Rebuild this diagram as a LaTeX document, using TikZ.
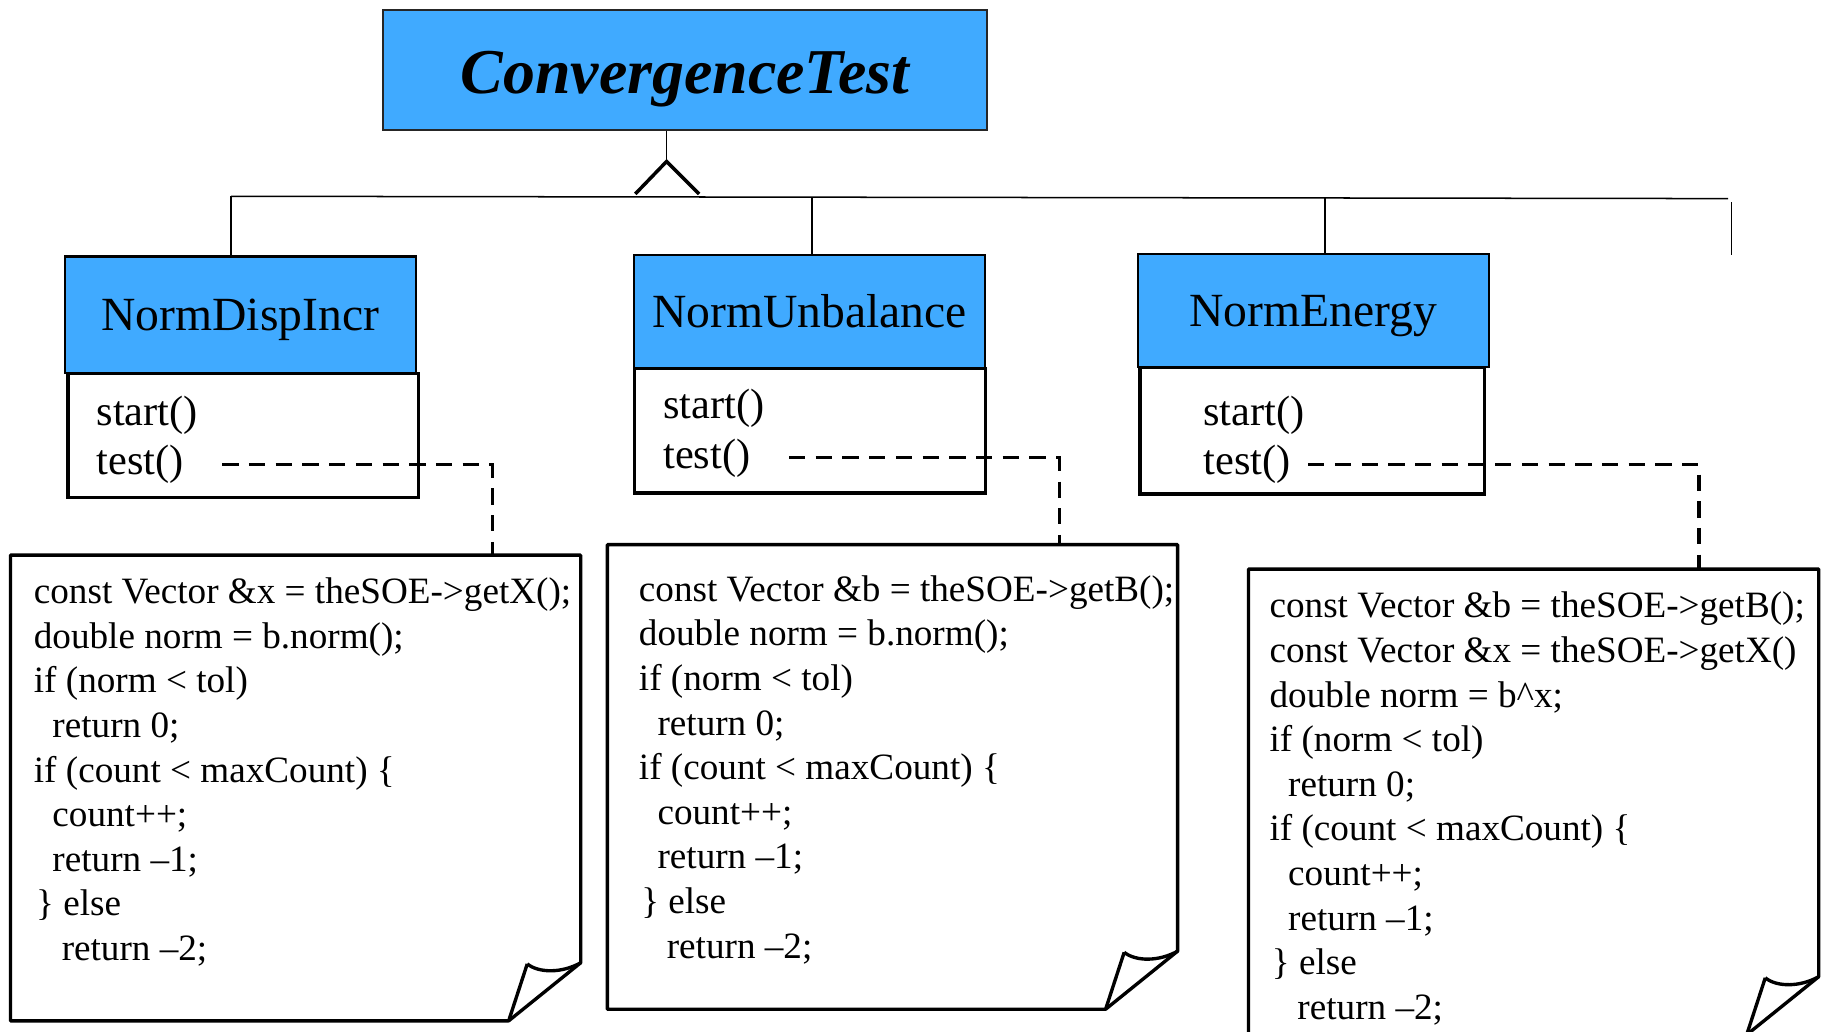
\documentclass[tikz,border=0pt]{standalone}
\usepackage{fontspec}
\setmainfont{Liberation Serif}
\definecolor{classblue}{RGB}{64,170,255}
\begin{document}
\begin{tikzpicture}[x=1pt,y=-1pt,
  titlebox/.style={draw=black!85, line width=1.5pt, fill=classblue, anchor=north west, inner sep=0pt,
    minimum width=520pt, minimum height=103pt, text height=41pt, text depth=0pt,
    font=\fontsize{55}{60}\selectfont\bfseries\itshape},
  headbox/.style={draw=black, line width=1.8pt, fill=classblue, anchor=north west, inner sep=0pt,
    text height=27pt, text depth=0pt, font=\fontsize{41}{46}\selectfont},
  bodybox/.style={draw=black, line width=2.9pt, anchor=north west, inner sep=0pt},
  meth/.style={anchor=base west, inner sep=0pt, font=\fontsize{36.5}{40}\selectfont},
  code/.style={anchor=base west, inner sep=0pt, align=left, font=\fontsize{32}{38.4}\selectfont},
  notebox/.style={line width=2.9pt, line join=round},
  thinline/.style={line width=1.3pt},
  dashline/.style={line width=2.8pt, dash pattern=on 14pt off 9pt},
  genarrow/.style={line width=3pt},
]
\useasboundingbox (0,0) rectangle (1568,888);
\clip (0,0) rectangle (1568,888);

% superclass
\node[titlebox] (title) at (329,8) {ConvergenceTest};

% classes
\node[headbox, minimum width=302pt, minimum height=100pt] (h1) at (55,220) {NormDispIncr};
\node[bodybox, minimum width=302pt, minimum height=107pt] (b1) at (57,320) {};
\node[headbox, minimum width=302pt, minimum height=97pt] (h2) at (545,219) {NormUnbalance};
\node[bodybox, minimum width=302pt, minimum height=107pt] (b2) at (545,316) {};
\node[headbox, minimum width=302pt, minimum height=97pt] (h3) at (979,218) {NormEnergy};
\node[bodybox, minimum width=297pt, minimum height=109pt] (b3) at (980,315) {};

\node[meth] (s1) at (83,366) {start()};
\node[meth] (t1) at (83,409) {test()};
\node[meth] (s2) at (571,360) {start()};
\node[meth] (t2) at (571,403) {test()};
\node[meth] (s3) at (1036,366) {start()};
\node[meth] (t3) at (1036,409) {test()};

% generalization
\coordinate (apex) at (574,139);
\coordinate (busL) at (199,169);
\coordinate (busR) at (1488,171);
\coordinate (drop4top) at (1491,174);
\coordinate (drop4bot) at (1491,220);
\draw[thinline] (title.south -| apex) -- (apex);
\draw[genarrow] (547,167) -- (apex) -- (602,167);
\draw[thinline] (busL) -- (busR);
\draw[thinline] (busL) -- (h1.north -| busL);
\draw[thinline] (699,170) -- (h2.north -| 699,0);
\draw[thinline] (1141,170) -- (h3.north -| 1141,0);
\draw[thinline] (drop4top) -- (drop4bot);

% notes
\coordinate (n1top) at (424,478);
\coordinate (n2top) at (912,469);
\coordinate (n3top) at (1463,490);

% note 1: L=9 T=478 R=500 B=879
\draw[notebox] (9,478) -- (500,478) -- (500,829) -- (438,879) -- (9,879) -- cycle;
\draw[notebox] (454,830) .. controls (464,838) and (484,838) .. (500,829);
\draw[notebox] (454,830) -- (438,879);
% note 2: L=523 T=469 R=1014 B=869
\draw[notebox] (523,469) -- (1014,469) -- (1014,819) -- (952,869) -- (523,869) -- cycle;
\draw[notebox] (968,820) .. controls (978,828) and (998,828) .. (1014,819);
\draw[notebox] (968,820) -- (952,869);
% note 3: L=1075 T=490 R=1566 B=891
\draw[notebox] (1075,490) -- (1566,490) -- (1566,841) -- (1504,891) -- (1075,891) -- cycle;
\draw[notebox] (1520,842) .. controls (1530,850) and (1550,850) .. (1566,841);
\draw[notebox] (1520,842) -- (1504,891);

% code (node base = baseline of the last line)
\node[code] (code1) at (29,827) {const Vector \&x = theSOE->getX();\\
double norm = b.norm();\\
if (norm < tol)\\
\hspace*{16pt}return 0;\\
if (count < maxCount) \{\\
\hspace*{16pt}count++;\\
\hspace*{16pt}return --1;\\
\hspace*{2pt}\} else\\
\hspace*{24pt}return --2;};

\node[code] (code2) at (550,825) {const Vector \&b = theSOE->getB();\\
double norm = b.norm();\\
if (norm < tol)\\
\hspace*{16pt}return 0;\\
if (count < maxCount) \{\\
\hspace*{16pt}count++;\\
\hspace*{16pt}return --1;\\
\hspace*{2pt}\} else\\
\hspace*{24pt}return --2;};

\node[code] (code3) at (1093,877.6) {const Vector \&b = theSOE->getB();\\
const Vector \&x = theSOE->getX()\\
double norm = b\textasciicircum x;\\
if (norm < tol)\\
\hspace*{16pt}return 0;\\
if (count < maxCount) \{\\
\hspace*{16pt}count++;\\
\hspace*{16pt}return --1;\\
\hspace*{2pt}\} else\\
\hspace*{24pt}return --2;};

% dashed connectors
\draw[dashline] ([xshift=33pt]t1.east) -| (n1top);
\draw[dashline] ([xshift=33pt]t2.east) -| (n2top);
\draw[dashline] ([xshift=15pt]t3.east) -| (n3top);
\end{tikzpicture}
\end{document}
